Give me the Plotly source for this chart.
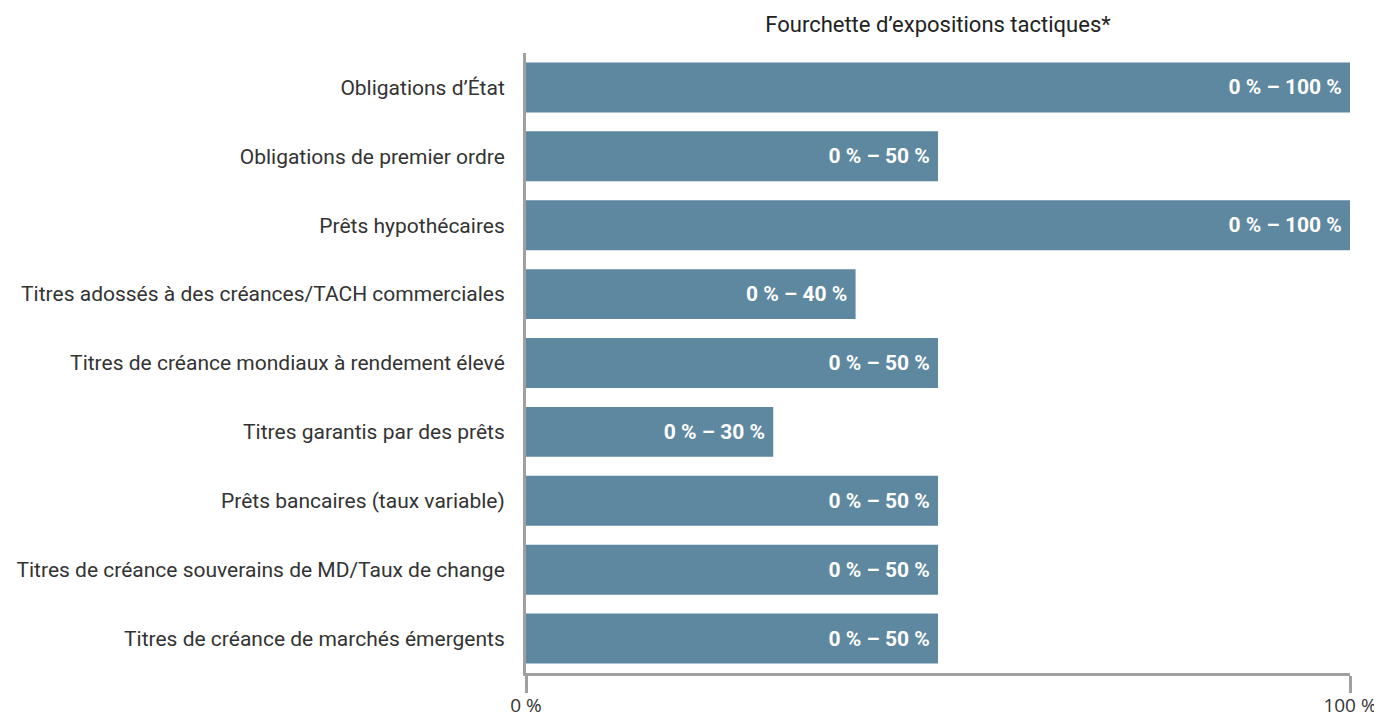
import plotly.graph_objects as go

categories = [
    "Obligations d’État",
    "Obligations de premier ordre",
    "Prêts hypothécaires",
    "Titres adossés à des créances/TACH commerciales",
    "Titres de créance mondiaux à rendement élevé",
    "Titres garantis par des prêts",
    "Prêts bancaires (taux variable)",
    "Titres de créance souverains de MD/Taux de change",
    "Titres de créance de marchés émergents",
]
max_values = [100, 50, 100, 40, 50, 30, 50, 50, 50]
labels = [f"0 % – {v} %\u00a0" for v in max_values]
tick_vals = [0, 100]
tick_text = ["0 %", "100 %"]

# page body has an 8px margin, so figure coords = page coords - 8
fig = go.Figure(go.Bar(
    y=categories,
    x=max_values,
    orientation="h",
    marker=dict(color="#5e87a0", line=dict(width=0)),
    text=labels,
    textposition="inside",
    insidetextanchor="end",
    textfont=dict(family="Roboto", size=21, color="white", weight="bold"),
    cliponaxis=False,
))

fig.update_layout(
    width=1374, height=710,
    margin=dict(l=518, r=32, t=45, b=45, autoexpand=False),
    paper_bgcolor="white", plot_bgcolor="white",
    bargap=0.275,
    showlegend=False,
    uniformtext=dict(mode=False),
    title=dict(
        text="Fourchette d’expositions tactiques*",
        x=(518 + 1342) / 2 / 1374, xanchor="center",
        y=1 - 16 / 710, yanchor="middle",
        font=dict(family="Roboto", size=22, color="#222222"),
    ),
    font=dict(family="Roboto", size=21, color="#333333"),
)
fig.update_yaxes(
    autorange="reversed",
    automargin=False,
    showline=True, linecolor="#a0a0a0", linewidth=3,
    ticks="", showgrid=False,
    ticklabelstandoff=14,
    tickfont=dict(family="Roboto", size=21, color="#333333"),
)
fig.update_xaxes(
    range=[0, 100],
    automargin=False,
    tickvals=tick_vals, ticktext=tick_text,
    showline=True, linecolor="#a0a0a0", linewidth=3,
    ticks="outside", ticklen=17, tickwidth=3, tickcolor="#a0a0a0",
    showgrid=False, zeroline=False,
    ticklabelstandoff=-4,
    tickfont=dict(family="Open Sans", size=19, color="#333333"),
)

fig.write_html("out.html")
